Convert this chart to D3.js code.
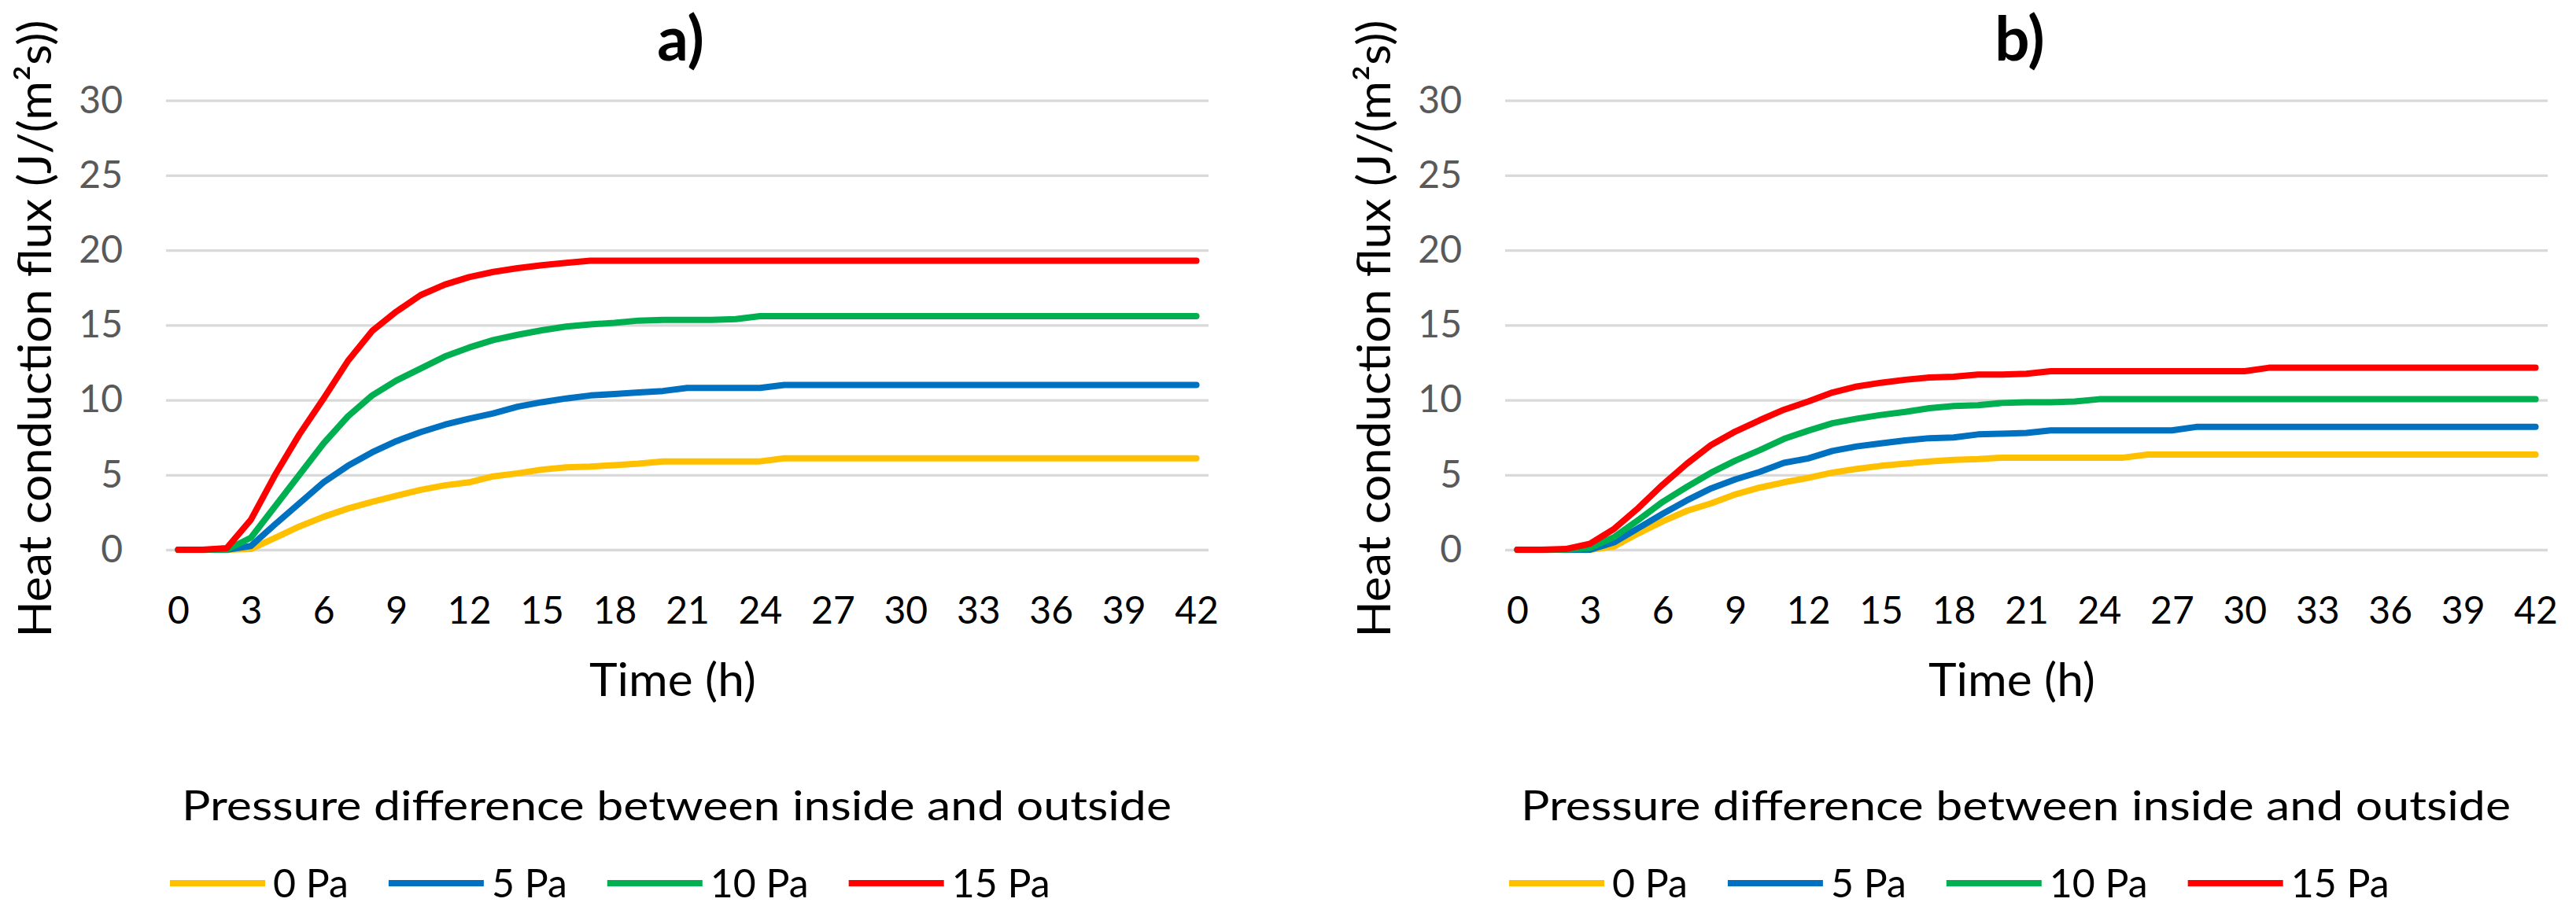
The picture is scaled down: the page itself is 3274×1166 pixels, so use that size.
<!DOCTYPE html>
<html>
<head>
<meta charset="utf-8">
<script src="https://cdn.jsdelivr.net/npm/d3@7/dist/d3.min.js"></script>
<style>
  body { margin: 0; background: #fff; }
  text { font-family: Lato, "Open Sans", sans-serif; }
</style>
</head>
<body>
<script>
// hours on the category axis
var hours = [0,1,2,3,4,5,6,7,8,9,10,11,12,13,14,15,16,17,18,19,20,21,22,23,24,25,26,27,28,29,30,31,32,33,34,35,36,37,38,39,40,41,42];
var hourTicks = [0,3,6,9,12,15,18,21,24,27,30,33,36,39,42];
var fluxTicks = [0,5,10,15,20,25,30];

var seriesNames = ["0 Pa", "5 Pa", "10 Pa", "15 Pa"];
var seriesColors = ["#FFC000", "#0070C0", "#00B050", "#FF0000"];

// panel a)
var a0 = [0,0,0,0.05,0.8,1.55,2.2,2.75,3.2,3.6,4.0,4.3,4.5,4.9,5.1,5.35,5.5,5.55,5.65,5.75,5.9,5.9,5.9,5.9,5.9,6.1,6.1,6.1,6.1,6.1,6.1,6.1,6.1,6.1,6.1,6.1,6.1,6.1,6.1,6.1,6.1,6.1,6.1];
var a5 = [0,0,0,0.25,1.7,3.1,4.5,5.6,6.5,7.25,7.85,8.35,8.75,9.1,9.55,9.85,10.1,10.3,10.4,10.5,10.6,10.8,10.8,10.8,10.8,11.0,11.0,11.0,11.0,11.0,11.0,11.0,11.0,11.0,11.0,11.0,11.0,11.0,11.0,11.0,11.0,11.0,11.0];
var a10 = [0,0,0,0.8,2.9,5.0,7.1,8.9,10.3,11.3,12.1,12.9,13.5,14.0,14.35,14.65,14.9,15.05,15.15,15.3,15.35,15.35,15.35,15.4,15.6,15.6,15.6,15.6,15.6,15.6,15.6,15.6,15.6,15.6,15.6,15.6,15.6,15.6,15.6,15.6,15.6,15.6,15.6];
var a15 = [0,0,0.1,2.0,5.0,7.7,10.1,12.6,14.6,15.9,17.0,17.7,18.2,18.55,18.8,19.0,19.15,19.3,19.3,19.3,19.3,19.3,19.3,19.3,19.3,19.3,19.3,19.3,19.3,19.3,19.3,19.3,19.3,19.3,19.3,19.3,19.3,19.3,19.3,19.3,19.3,19.3,19.3];

// panel b)
var b0 = [0,0,0,0,0.22,1.1,1.9,2.6,3.1,3.7,4.15,4.5,4.8,5.15,5.4,5.6,5.75,5.9,6.0,6.05,6.15,6.15,6.15,6.15,6.15,6.15,6.35,6.35,6.35,6.35,6.35,6.35,6.35,6.35,6.35,6.35,6.35,6.35,6.35,6.35,6.35,6.35,6.35];
var b5 = [0,0,0,0,0.5,1.45,2.4,3.3,4.1,4.7,5.2,5.8,6.1,6.6,6.9,7.1,7.3,7.45,7.5,7.7,7.75,7.8,7.97,7.97,7.97,7.97,7.97,7.97,8.2,8.2,8.2,8.2,8.2,8.2,8.2,8.2,8.2,8.2,8.2,8.2,8.2,8.2,8.2];
var b10 = [0,0,0,0.13,0.85,2.0,3.2,4.2,5.15,5.95,6.65,7.4,7.95,8.45,8.75,9.0,9.2,9.45,9.6,9.65,9.8,9.85,9.85,9.9,10.05,10.05,10.05,10.05,10.05,10.05,10.05,10.05,10.05,10.05,10.05,10.05,10.05,10.05,10.05,10.05,10.05,10.05,10.05];
var b15 = [0,0,0.05,0.4,1.4,2.8,4.35,5.75,7.0,7.9,8.65,9.35,9.9,10.5,10.9,11.15,11.35,11.5,11.55,11.7,11.7,11.75,11.92,11.92,11.92,11.92,11.92,11.92,11.92,11.92,11.92,12.15,12.15,12.15,12.15,12.15,12.15,12.15,12.15,12.15,12.15,12.15,12.15];

var W = 3274, H = 1166;
var panelShift = 1702;

var svg = d3.select("body").append("svg")
    .attr("width", W)
    .attr("height", H);

function drawPanel(offset, title, data) {
    var g = svg.append("g").attr("transform", "translate(" + offset + ",0)");

    var x = d3.scalePoint().domain(hours).range([211, 1536]).padding(0.5);
    var y = d3.scaleLinear().domain([0, 30]).range([699, 127.7]);

    // gridlines + y labels
    var yAxis = d3.axisLeft(y).tickValues(fluxTicks).tickSize(-(1536 - 211)).tickPadding(0);
    var ya = g.append("g").attr("transform", "translate(211,0)").call(yAxis);
    ya.select(".domain").remove();
    ya.selectAll(".tick line").attr("stroke", "#D9D9D9").attr("stroke-width", 3.3);
    ya.selectAll(".tick text")
        .attr("x", -55)
        .attr("fill", "#595959")
        .style("font-size", "48px")
        .style("font-family", "Lato");

    // x labels
    var xAxis = d3.axisBottom(x).tickValues(hourTicks).tickSize(0).tickPadding(0);
    var xa = g.append("g").attr("transform", "translate(0,758)").call(xAxis);
    xa.select(".domain").remove();
    xa.selectAll(".tick text")
        .attr("dy", "0.72em")
        .attr("fill", "#000")
        .style("font-size", "48px")
        .style("font-family", "Lato");

    var line = d3.line()
        .x(function(d, i) { return x(hours[i]); })
        .y(function(d) { return y(d); });

    data.forEach(function(vals, k) {
        g.append("path")
            .attr("d", line(vals))
            .attr("fill", "none")
            .attr("stroke", seriesColors[k])
            .attr("stroke-width", 8)
            .attr("stroke-linejoin", "round")
            .attr("stroke-linecap", "round");
    });

    // chart title
    g.append("text")
        .attr("x", 865).attr("y", 77)
        .attr("text-anchor", "middle")
        .style("font-size", "78px")
        .style("font-weight", "bold")
        .text(title);

    // axis titles
    g.append("text")
        .attr("transform", "translate(65,418) rotate(-90)")
        .attr("text-anchor", "middle")
        .attr("textLength", 785)
        .attr("lengthAdjust", "spacingAndGlyphs")
        .style("font-size", "58px")
        .text("Heat conduction flux (J/(m\u00B2s))");

    g.append("text")
        .attr("x", 855).attr("y", 885)
        .attr("text-anchor", "middle")
        .attr("textLength", 212)
        .attr("lengthAdjust", "spacingAndGlyphs")
        .style("font-size", "58px")
        .text("Time (h)");

    // legend
    g.append("text")
        .attr("x", 860).attr("y", 1043)
        .attr("text-anchor", "middle")
        .attr("textLength", 1258)
        .attr("lengthAdjust", "spacingAndGlyphs")
        .style("font-size", "52px")
        .text("Pressure difference between inside and outside");

    var lx = 216;
    seriesNames.forEach(function(name, k) {
        g.append("line")
            .attr("x1", lx).attr("x2", lx + 121)
            .attr("y1", 1123).attr("y2", 1123)
            .attr("stroke", seriesColors[k])
            .attr("stroke-width", 8);
        var t = g.append("text")
            .attr("x", lx + 131).attr("y", 1141)
            .style("font-size", "50px")
            .text(name);
        lx += 131 + t.node().getComputedTextLength() + 51;
    });
}

drawPanel(0, "a)", [a0, a5, a10, a15]);
drawPanel(panelShift, "b)", [b0, b5, b10, b15]);
</script>
</body>
</html>
